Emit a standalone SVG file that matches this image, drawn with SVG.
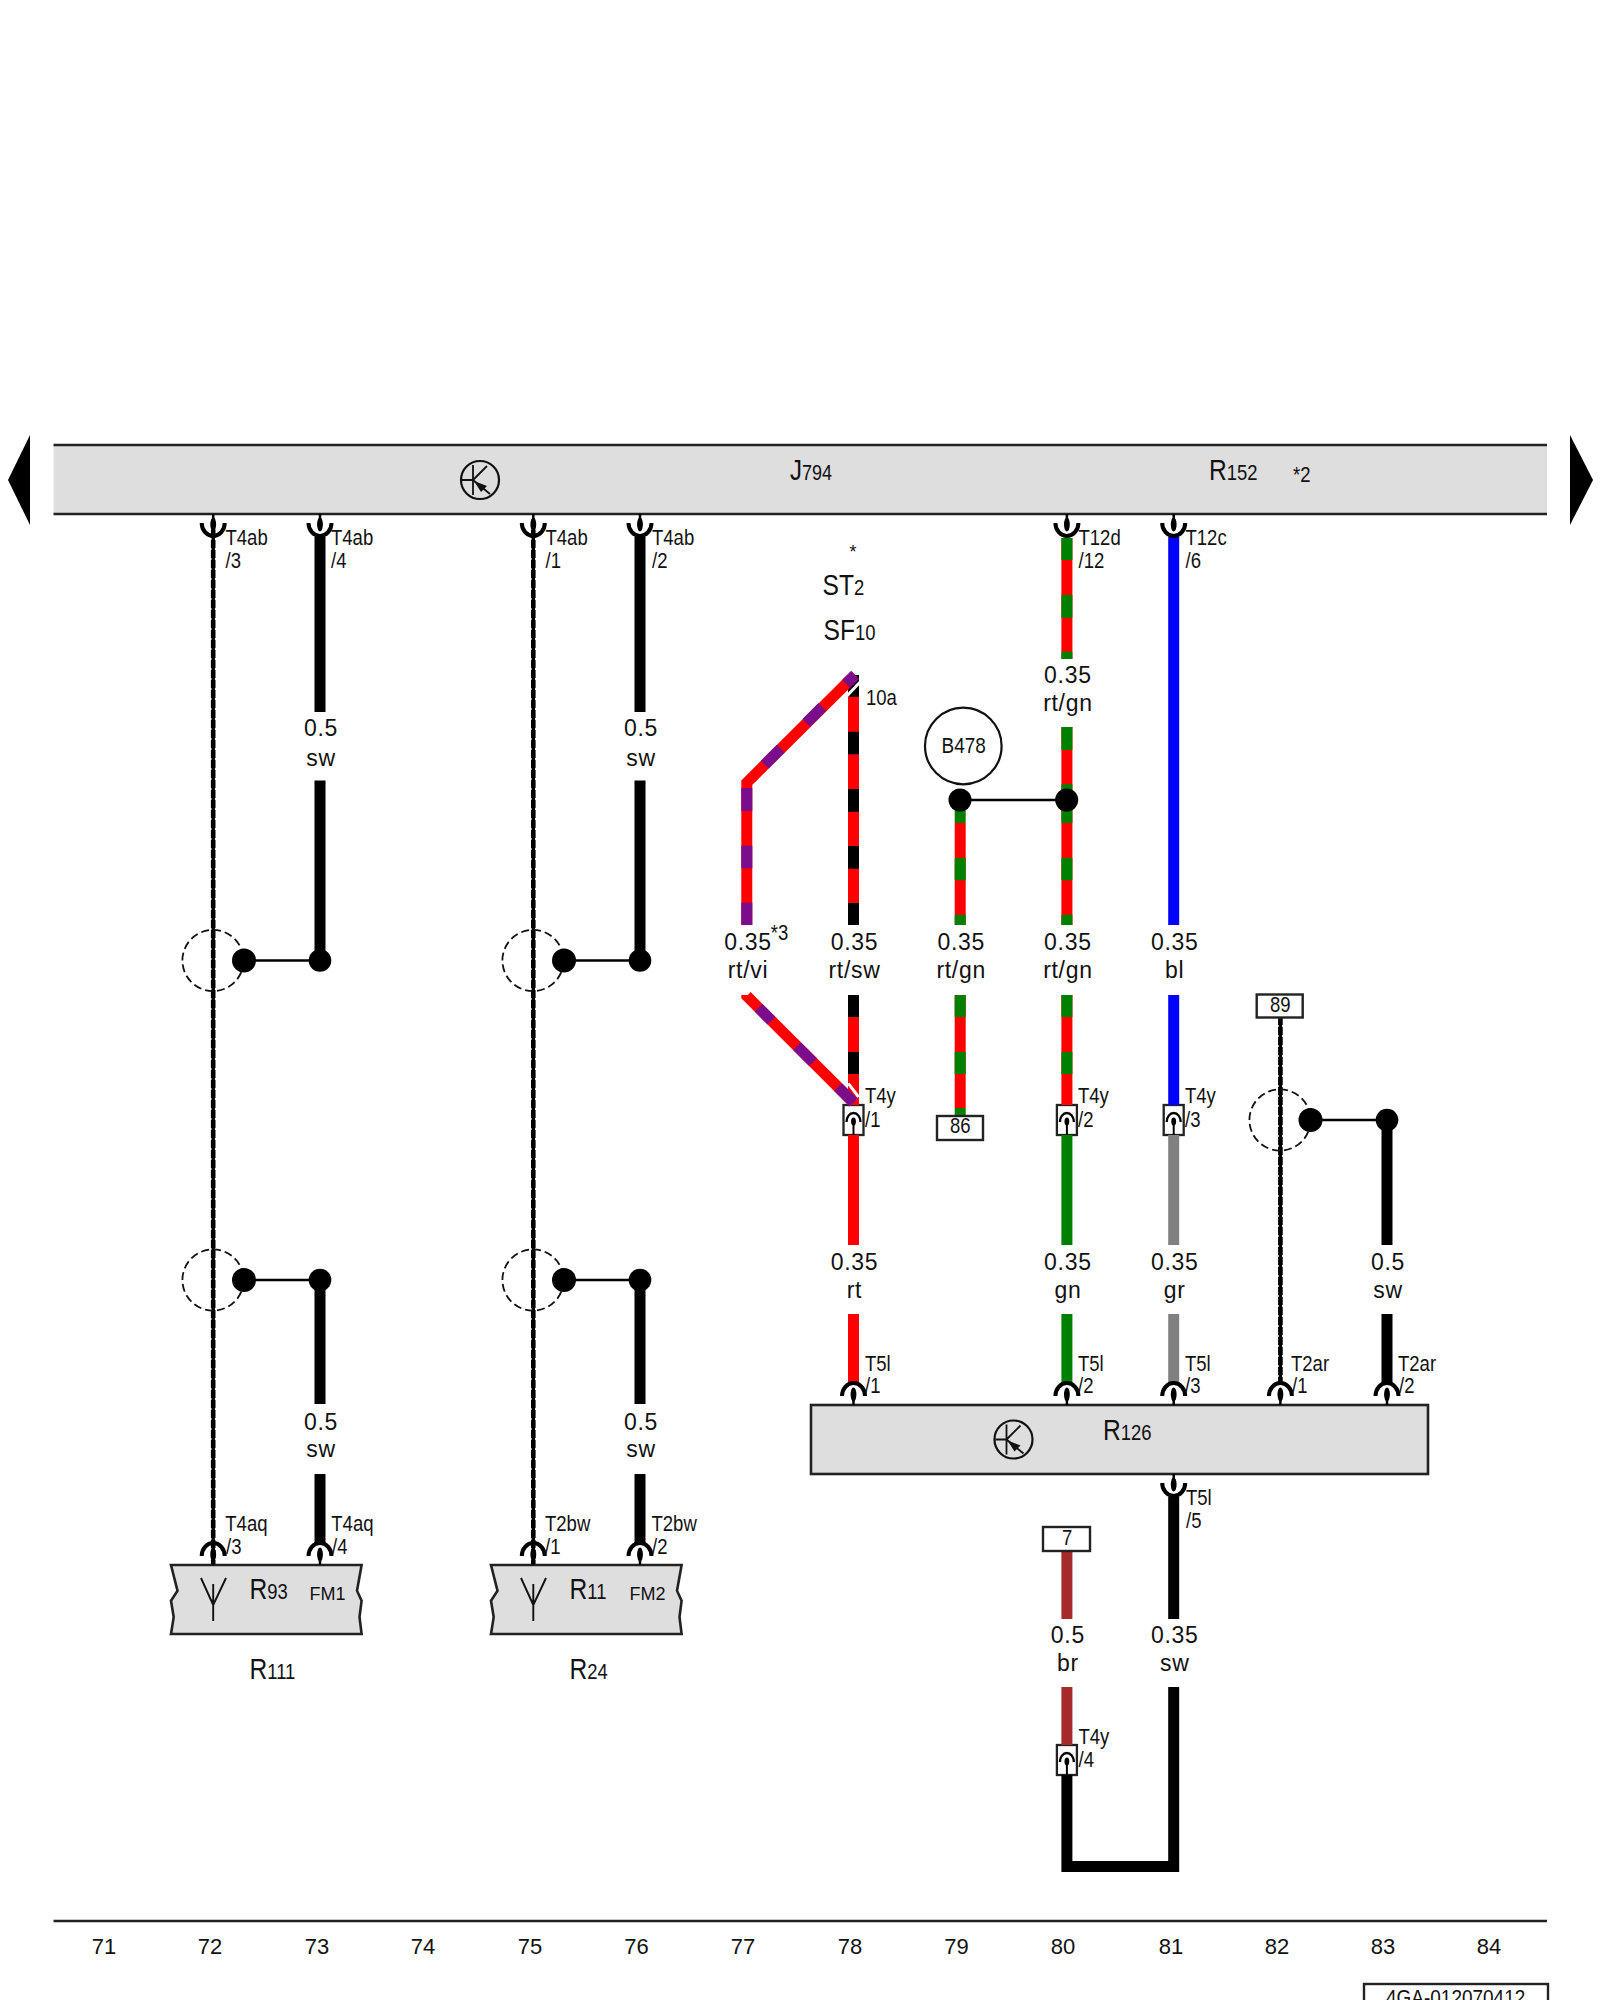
<svg xmlns="http://www.w3.org/2000/svg" width="1600" height="2000" viewBox="0 0 1600 2000">
<style>
text{font-family:"Liberation Sans",Arial,sans-serif;fill:#111}
.t{font-size:22.6px}
.g{font-size:23px;text-anchor:middle;letter-spacing:.7px;transform:translateX(1px)}
.n{font-size:22px;text-anchor:middle}
.b{font-size:30px}
.s{font-size:22.5px}
.f{font-size:18px}
.w{fill:none;stroke-width:11;stroke-linejoin:miter}
.k{stroke:#000}.r{stroke:#f00}.e{stroke:#008000}.v{stroke:#7b0c8c}.u{stroke:#00f}.y{stroke:#808080}.h{stroke:#a52a2a}
.th{fill:none;stroke:#000;stroke-width:3.4}
.tw{fill:none;stroke:#000;stroke-width:4.6;stroke-dasharray:8 2}
.j{stroke:#000;stroke-width:2.5;fill:none}
.d{fill:#000}
.sc{fill:none;stroke:#111;stroke-width:1.8;stroke-dasharray:8 4}
.bx{fill:#dedede;stroke:#222;stroke-width:2.6}
.lb{fill:#fff;stroke:#222;stroke-width:2.4}
</style>
<defs>
<g id="cup"><path d="M0 0V6" stroke="#000" stroke-width="2.5"/><ellipse cx="0" cy="10.5" rx="2.9" ry="7"/><path d="M-11.5 9A11.5 13 0 0 0 11.5 9" fill="none" stroke="#000" stroke-width="4"/></g>
<g id="pin"><rect x="-10" y="0" width="20" height="30" fill="#fff" stroke="#222" stroke-width="2.3"/><path d="M-7 17A7 9 0 0 1 7 17" fill="none" stroke="#000" stroke-width="2.4"/><path d="M0 14V30" stroke="#000" stroke-width="2"/><ellipse cx="0" cy="16.5" rx="2.4" ry="4"/></g>
<g id="tr"><circle r="19" fill="none" stroke="#111" stroke-width="2.2"/><path d="M-7 -15V15M-18 0H-7M-7 0L7 -14M-7 0L10 14" fill="none" stroke="#111" stroke-width="1.8"/><path d="M-6 1L7 6L1 12Z" fill="#111"/></g>
<path id="cir" class="sc" d="M30.6 0A30.6 30.6 0 1 1 -30.6 0A30.6 30.6 0 1 1 30.6 0"/>
</defs>

<g id="T4y">
<use href="#pin" x="853.5" y="1105"/><use href="#pin" x="1066.9" y="1105"/><use href="#pin" x="1173.7" y="1105"/><use href="#pin" x="1066.9" y="1745"/>
</g>

<g id="connectors">
<path class="tw" d="M213.2 530V1565M533.3 530V1565M1280.4 1017V1385"/>
<path class="th" d="M213.2 530V1565M533.3 530V1565M1280.4 1017V1385"/>
<path class="w k" d="M320 537V712M320 780.5V960M640 537V712M640 780.5V960M320 1280V1404M320 1474V1545M640 1280V1404M640 1474V1545M1387 1120V1245M1387 1314V1385"/>
<path class="j" d="M244 960.5H320M564 960.5H640M244 1280H320M564 1280H640M960 800H1066.9M1310 1120H1387"/>

<path class="w k" d="M853.5 675V925M853.5 995V1105"/>
<path class="w r" d="M853.5 696.7V731.7M853.5 754.3V789M853.5 811.7V846M853.5 868.7V903M853.5 1017V1052M853.5 1074V1105M853.5 1135V1245M853.5 1314V1385"/>
<path d="M861 681L845 698M848.3 1083.3L858.6 1097" stroke="#fff" stroke-width="3" fill="none"/>
<path class="w r" d="M746.8 925V782.7L855 675"/>
<path class="w v" d="M746.8 788V811M746.8 845.7V868.3M746.8 902.7V925M764.7 764.7L780.7 748.7M806.3 723L822.3 707M846 683.7L855 675"/>
<path class="w r" d="M746.8 995V996L853.5 1102.5"/>
<path class="w v" d="M758.5 1007.7L771.5 1020.7M797 1046.2L813 1062.2M838 1087.2L853.5 1102.5"/>

<path class="w r" d="M960.2 823V925M960.2 995V1108"/>
<path class="w e" d="M960.2 800V823M960.2 857.7V880.3M960.2 914.7V925M960.2 995V1017M960.2 1052V1074M960.2 1108V1116"/>
<path class="w r" d="M1066.9 538V659M1066.9 727V925M1066.9 995V1105"/>
<path class="w e" d="M1066.9 538V560M1066.9 595V617.7M1066.9 651.7V659M1066.9 727V750M1066.9 784.3V823M1066.9 857.7V880.3M1066.9 914.7V925M1066.9 995V1017M1066.9 1052V1074M1066.9 1135V1245M1066.9 1314V1385"/>
<path class="w u" d="M1173.7 537V925M1173.7 995V1105"/>
<path class="w y" d="M1173.7 1135V1245M1173.7 1314V1385"/>
<path class="w h" d="M1066.9 1551V1619M1066.9 1687V1745"/>
<path class="w k" d="M1173.7 1497V1619M1173.7 1687V1866.5H1066.9V1775"/>
</g>

<g id="J794">
<rect x="53.5" y="446" width="1493.5" height="68" fill="#dedede"/>
<path d="M53.5 445H1547M53.5 514H1547" stroke="#222" stroke-width="2.6" fill="none"/>
<use href="#tr" x="480" y="480"/>
<text transform="translate(790 480) scale(.8 1)"><tspan class="b">J</tspan><tspan class="s">794</tspan></text>
<text transform="translate(1209 480) scale(.82 1)"><tspan class="b">R</tspan><tspan class="s">152</tspan></text>
<text class="t" transform="translate(1293 482) scale(.82 1)">*2</text>
<use href="#cup" x="213.2" y="514"/><use href="#cup" x="320" y="514"/><use href="#cup" x="533.3" y="514"/><use href="#cup" x="640" y="514"/><use href="#cup" x="1066.9" y="514"/><use href="#cup" x="1173.7" y="514"/>
</g>

<g id="arrow-left"><path d="M30 435V525L8 480Z"/></g>
<g id="arrow-right"><path d="M1570 435V525L1593 480Z"/></g>

<g id="R126">
<rect class="bx" x="811" y="1405" width="617" height="69"/>
<use href="#tr" x="1013.5" y="1439.5"/>
<text transform="translate(1103 1440) scale(.82 1)"><tspan class="b">R</tspan><tspan class="s">126</tspan></text>
<use href="#cup" transform="translate(853.5 1405) scale(1 -1)"/><use href="#cup" transform="translate(1066.9 1405) scale(1 -1)"/><use href="#cup" transform="translate(1173.7 1405) scale(1 -1)"/><use href="#cup" transform="translate(1280.4 1405) scale(1 -1)"/><use href="#cup" transform="translate(1387 1405) scale(1 -1)"/>
<use href="#cup" x="1173.7" y="1474"/>
</g>

<g id="R93">
<path class="bx" d="M171 1565H361.6L357 1590.7L361.6 1600.7L359.5 1617L361.6 1634H171L173.7 1617L171 1600.7L177.5 1590.7Z"/>
<path d="M201 1578L213.2 1605L226 1578M213.2 1584V1621" fill="none" stroke="#111" stroke-width="1.9"/>
<text transform="translate(249.5 1599) scale(.82 1)"><tspan class="b">R</tspan><tspan class="s">93</tspan></text>
<text class="f" x="309.5" y="1600">FM1</text>
<use href="#cup" transform="translate(213.2 1565) scale(1 -1)"/><use href="#cup" transform="translate(320 1565) scale(1 -1)"/>
</g>
<g id="R11">
<path class="bx" d="M491 1565H681.6L677 1590.7L681.6 1600.7L679.5 1617L681.6 1634H491L493.7 1617L491 1600.7L497.5 1590.7Z"/>
<path d="M521 1578L533.3 1605L546 1578M533.3 1584V1621" fill="none" stroke="#111" stroke-width="1.9"/>
<text transform="translate(569.5 1599) scale(.82 1)"><tspan class="b">R</tspan><tspan class="s">11</tspan></text>
<text class="f" x="629.5" y="1600">FM2</text>
<use href="#cup" transform="translate(533.3 1565) scale(1 -1)"/><use href="#cup" transform="translate(640 1565) scale(1 -1)"/>
</g>
<g id="R111"><text transform="translate(249.5 1679) scale(.82 1)"><tspan class="b">R</tspan><tspan class="s">111</tspan></text></g>
<g id="R24"><text transform="translate(569.5 1679) scale(.82 1)"><tspan class="b">R</tspan><tspan class="s">24</tspan></text></g>

<g id="B478">
<circle cx="963.3" cy="746" r="38.3" fill="#fff" stroke="#111" stroke-width="2.2"/>
<text class="t" transform="translate(941.5 753) scale(.84 1)">B478</text>
</g>
<g id="ST2-SF10">
<text class="f" x="853" y="558" text-anchor="middle">*</text>
<text transform="translate(822.5 595) scale(.82 1)"><tspan class="b">ST</tspan><tspan class="s">2</tspan></text>
<text transform="translate(823.5 640) scale(.82 1)"><tspan class="b">SF</tspan><tspan class="s">10</tspan></text>
<text class="t" transform="translate(866 705) scale(.82 1)">10a</text>
</g>

<g id="splices">
<use href="#cir" x="213" y="960.5"/><use href="#cir" x="533" y="960.5"/><use href="#cir" x="213" y="1280"/><use href="#cir" x="533" y="1280"/><use href="#cir" x="1280" y="1120"/>
<circle class="d" cx="244" cy="960.5" r="12"/><circle class="d" cx="320" cy="960.5" r="11.3"/>
<circle class="d" cx="564" cy="960.5" r="12"/><circle class="d" cx="640" cy="960.5" r="11.3"/>
<circle class="d" cx="244" cy="1280" r="12"/><circle class="d" cx="320" cy="1280" r="11.3"/>
<circle class="d" cx="564" cy="1280" r="12"/><circle class="d" cx="640" cy="1280" r="11.3"/>
<circle class="d" cx="1310.5" cy="1120" r="12"/><circle class="d" cx="1387" cy="1120" r="11.3"/>
<circle class="d" cx="960" cy="800" r="11.5"/><circle class="d" cx="1066.7" cy="800" r="11.5"/>
</g>

<g id="box-86"><rect class="lb" x="937" y="1116" width="46" height="24"/><text class="t" transform="translate(950 1133) scale(.82 1)">86</text></g>
<g id="box-89"><rect class="lb" x="1256.7" y="994.5" width="46" height="23"/><text class="t" transform="translate(1270 1012) scale(.82 1)">89</text></g>
<g id="box-7"><rect class="lb" x="1043" y="1527" width="47" height="24"/><text class="t" transform="translate(1062 1545) scale(.82 1)">7</text></g>

<g id="pin-labels">
<g class="t">
<text transform="translate(225.5 545) scale(.82 1)">T4ab</text><text transform="translate(225.5 568) scale(.82 1)">/3</text>
<text transform="translate(331 545) scale(.82 1)">T4ab</text><text transform="translate(331 568) scale(.82 1)">/4</text>
<text transform="translate(545.5 545) scale(.82 1)">T4ab</text><text transform="translate(545.5 568) scale(.82 1)">/1</text>
<text transform="translate(652 545) scale(.82 1)">T4ab</text><text transform="translate(652 568) scale(.82 1)">/2</text>
<text transform="translate(1078.5 545) scale(.82 1)">T12d</text><text transform="translate(1078.5 568) scale(.82 1)">/12</text>
<text transform="translate(1185.5 545) scale(.82 1)">T12c</text><text transform="translate(1185.5 568) scale(.82 1)">/6</text>
<text transform="translate(865 1103) scale(.82 1)">T4y</text><text transform="translate(865 1127) scale(.82 1)">/1</text>
<text transform="translate(1078 1103) scale(.82 1)">T4y</text><text transform="translate(1078 1127) scale(.82 1)">/2</text>
<text transform="translate(1185 1103) scale(.82 1)">T4y</text><text transform="translate(1185 1127) scale(.82 1)">/3</text>
<text transform="translate(865 1371) scale(.82 1)">T5l</text><text transform="translate(865 1393) scale(.82 1)">/1</text>
<text transform="translate(1078 1371) scale(.82 1)">T5l</text><text transform="translate(1078 1393) scale(.82 1)">/2</text>
<text transform="translate(1185 1371) scale(.82 1)">T5l</text><text transform="translate(1185 1393) scale(.82 1)">/3</text>
<text transform="translate(1291 1371) scale(.82 1)">T2ar</text><text transform="translate(1292 1393) scale(.82 1)">/1</text>
<text transform="translate(1398 1371) scale(.82 1)">T2ar</text><text transform="translate(1399 1393) scale(.82 1)">/2</text>
<text transform="translate(1186 1505) scale(.82 1)">T5l</text><text transform="translate(1186 1528) scale(.82 1)">/5</text>
<text transform="translate(1078.5 1744) scale(.82 1)">T4y</text><text transform="translate(1078.5 1767) scale(.82 1)">/4</text>
<text transform="translate(225.3 1531) scale(.82 1)">T4aq</text><text transform="translate(226 1554) scale(.82 1)">/3</text>
<text transform="translate(331.3 1531) scale(.82 1)">T4aq</text><text transform="translate(332 1554) scale(.82 1)">/4</text>
<text transform="translate(545 1531) scale(.82 1)">T2bw</text><text transform="translate(545 1554) scale(.82 1)">/1</text>
<text transform="translate(651.5 1531) scale(.82 1)">T2bw</text><text transform="translate(652 1554) scale(.82 1)">/2</text>
<text transform="translate(770.7 940) scale(.82 1)">*3</text>
</g>
</g>

<g id="wire-labels">
<text class="g" x="320" y="736">0.5</text><text class="g" x="320" y="766">sw</text>
<text class="g" x="640" y="736">0.5</text><text class="g" x="640" y="766">sw</text>
<text class="g" x="320" y="1430">0.5</text><text class="g" x="320" y="1457">sw</text>
<text class="g" x="640" y="1430">0.5</text><text class="g" x="640" y="1457">sw</text>
<text class="g" x="1066.9" y="683">0.35</text><text class="g" x="1066.9" y="711">rt/gn</text>
<text class="g" x="747" y="950">0.35</text><text class="g" x="747" y="978">rt/vi</text>
<text class="g" x="853.5" y="950">0.35</text><text class="g" x="853.5" y="978">rt/sw</text>
<text class="g" x="960.2" y="950">0.35</text><text class="g" x="960.2" y="978">rt/gn</text>
<text class="g" x="1066.9" y="950">0.35</text><text class="g" x="1066.9" y="978">rt/gn</text>
<text class="g" x="1173.7" y="950">0.35</text><text class="g" x="1173.7" y="978">bl</text>
<text class="g" x="853.5" y="1270">0.35</text><text class="g" x="853.5" y="1298">rt</text>
<text class="g" x="1066.9" y="1270">0.35</text><text class="g" x="1066.9" y="1298">gn</text>
<text class="g" x="1173.7" y="1270">0.35</text><text class="g" x="1173.7" y="1298">gr</text>
<text class="g" x="1387" y="1270">0.5</text><text class="g" x="1387" y="1298">sw</text>
<text class="g" x="1066.9" y="1643">0.5</text><text class="g" x="1066.9" y="1671">br</text>
<text class="g" x="1173.7" y="1643">0.35</text><text class="g" x="1173.7" y="1671">sw</text>
</g>

<g id="grid">
<path d="M53.5 1921H1547" stroke="#222" stroke-width="2.4"/>
<text class="n" x="104" y="1954">71</text><text class="n" x="210" y="1954">72</text><text class="n" x="317" y="1954">73</text><text class="n" x="423" y="1954">74</text><text class="n" x="530" y="1954">75</text><text class="n" x="636.5" y="1954">76</text><text class="n" x="743" y="1954">77</text><text class="n" x="850" y="1954">78</text><text class="n" x="956.5" y="1954">79</text><text class="n" x="1063" y="1954">80</text><text class="n" x="1171" y="1954">81</text><text class="n" x="1277" y="1954">82</text><text class="n" x="1383" y="1954">83</text><text class="n" x="1489" y="1954">84</text>
</g>
<g id="doc-number">
<rect class="lb" x="1364" y="1984" width="184" height="30"/>
<text class="t" transform="translate(1386 2005) scale(.84 1)">4GA-012070412</text>
</g>
</svg>
